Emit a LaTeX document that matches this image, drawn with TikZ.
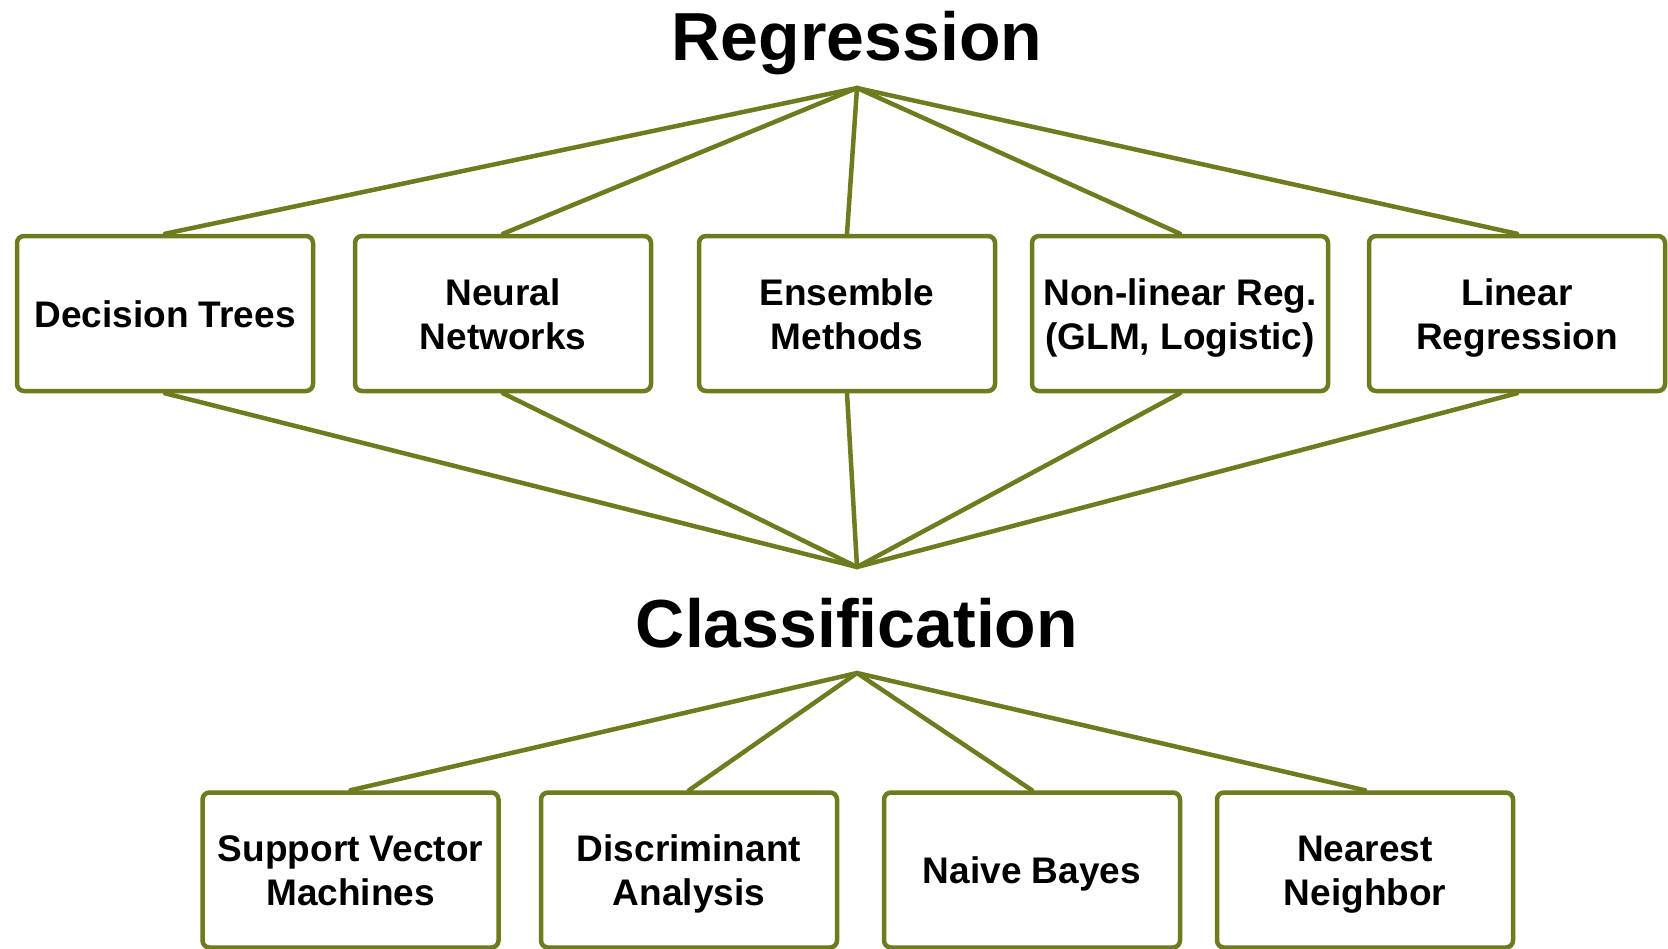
\documentclass[tikz,border=0pt]{standalone}
\usepackage{fontspec}
\setmainfont{Liberation Sans}
\definecolor{olive}{RGB}{112,122,30}
\begin{document}
\begin{tikzpicture}[x=1pt,y=-1pt,
  box/.style={draw=olive, line width=4.5pt, rounded corners=7pt, fill=white,
    minimum width=296pt, minimum height=155pt, align=center, inner sep=0pt,
    font=\fontsize{37}{44}\selectfont\bfseries},
  oneline/.style={text height=27pt, text depth=0pt},
  twoline/.style={text height=71pt, text depth=0pt},
  title/.style={anchor=base, font=\fontsize{68}{72}\selectfont\bfseries},
  link/.style={draw=olive, line width=4.5pt, line cap=round, line join=round}]
\useasboundingbox (0,0) rectangle (1668,948);
\begin{scope}
\clip (0,0) rectangle (1668,948);

% titles and the points where the connectors meet
\node[title] (reg) at (857,60) {Regression};
\node[title] (cls) at (857,647) {Classification};
\coordinate (regapex) at (857,88);
\coordinate (clsin) at (857,567);
\coordinate (clsout) at (857,673);

% methods usable for both tasks
\node[box,oneline] (dt) at (165,313.5) {Decision Trees};
\node[box,twoline] (nn) at (503,313.5) {Neural\\Networks};
\node[box,twoline] (em) at (847,313.5) {Ensemble\\Methods};
\node[box,twoline] (nl) at (1180,313.5) {Non-linear Reg.\\(GLM, Logistic)};
\node[box,twoline] (lr) at (1517,313.5) {Linear\\Regression};

% classification-only methods
\node[box,twoline] (svm) at (350.5,870) {Support Vector\\Machines};
\node[box,twoline] (da) at (689,870) {Discriminant\\Analysis};
\node[box,oneline] (nb) at (1032,870) {Naive Bayes};
\node[box,twoline] (knn) at (1365,870) {Nearest\\Neighbor};

\foreach \b in {dt,nn,em,nl,lr}{
  \path[link] (regapex) -- (\b.north);
  \path[link] (\b.south) -- (clsin);
}
\foreach \b in {svm,da,nb,knn}{
  \path[link] (clsout) -- (\b.north);
}
\end{scope}
\end{tikzpicture}
\end{document}
